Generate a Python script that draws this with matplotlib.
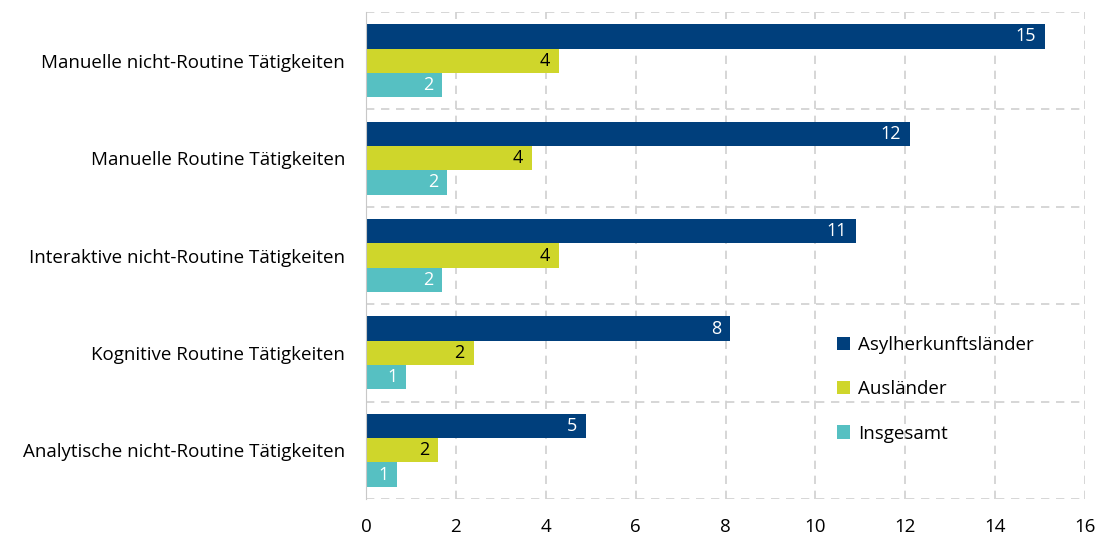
import numpy as np
import matplotlib
matplotlib.use("Agg")
import matplotlib.pyplot as plt

categories = ["Manuelle nicht-Routine Tätigkeiten",
              "Manuelle Routine Tätigkeiten",
              "Interaktive nicht-Routine Tätigkeiten",
              "Kognitive Routine Tätigkeiten",
              "Analytische nicht-Routine Tätigkeiten"]
asyl = [15.1, 12.1, 10.9, 8.1, 4.9]
auslaender = [4.3, 3.7, 4.3, 2.4, 1.6]
insgesamt = [1.7, 1.8, 1.7, 0.9, 0.7]
series_names = ["Asylherkunftsländer", "Ausländer", "Insgesamt"]
colors = ["#003f7c", "#cfd62b", "#56c0c2"]
text_colors = ["white", "black", "white"]

plt.rcParams['font.family'] = ['Open Sans', 'DejaVu Sans']

fig = plt.figure(figsize=(11, 5.39), dpi=100)
ax = fig.add_axes([0.3327, 0.0742, 0.6537, 0.9035])

y = np.arange(len(categories))
h = 0.25
for k, vals in enumerate([asyl, auslaender, insgesamt]):
    pos = y - h + k * h
    ax.barh(pos, vals, height=h, color=colors[k], label=series_names[k], zorder=3)
    for p, v in zip(pos, vals):
        ax.text(v - 0.2, p, "%d" % round(v), ha='right', va='center',
                color=text_colors[k], fontsize=13, zorder=4)

ax.set_xlim(0, 16)
ax.set_ylim(len(categories) - 0.5, -0.5)
ax.set_xticks(range(0, 17, 2))
ax.set_yticks(y)
ax.set_yticklabels(categories)
ax.set_yticks(np.arange(-0.5, len(categories)), minor=True)
ax.tick_params(axis='y', which='both', length=0, labelsize=13.5, pad=15)
ax.tick_params(axis='x', length=0, labelsize=13.5, pad=14)

ax.grid(axis='x', which='major', color='#d0d0d0', linestyle=(0, (5, 4)), lw=1.2, zorder=0)
ax.grid(axis='y', which='minor', color='#d0d0d0', linestyle=(0, (5, 4)), lw=1.2, zorder=0)
for s in ['top', 'right', 'bottom']:
    ax.spines[s].set_visible(False)
ax.spines['left'].set_color('#c8c8c8')
ax.spines['left'].set_zorder(5)

leg = ax.legend(loc='upper left', bbox_to_anchor=(0.645, 0.35), frameon=False,
                fontsize=13.5, handlelength=0.7, handleheight=0.7, handletextpad=0.4,
                labelspacing=1.4, borderaxespad=0)

fig.savefig("out.png", dpi=100)
